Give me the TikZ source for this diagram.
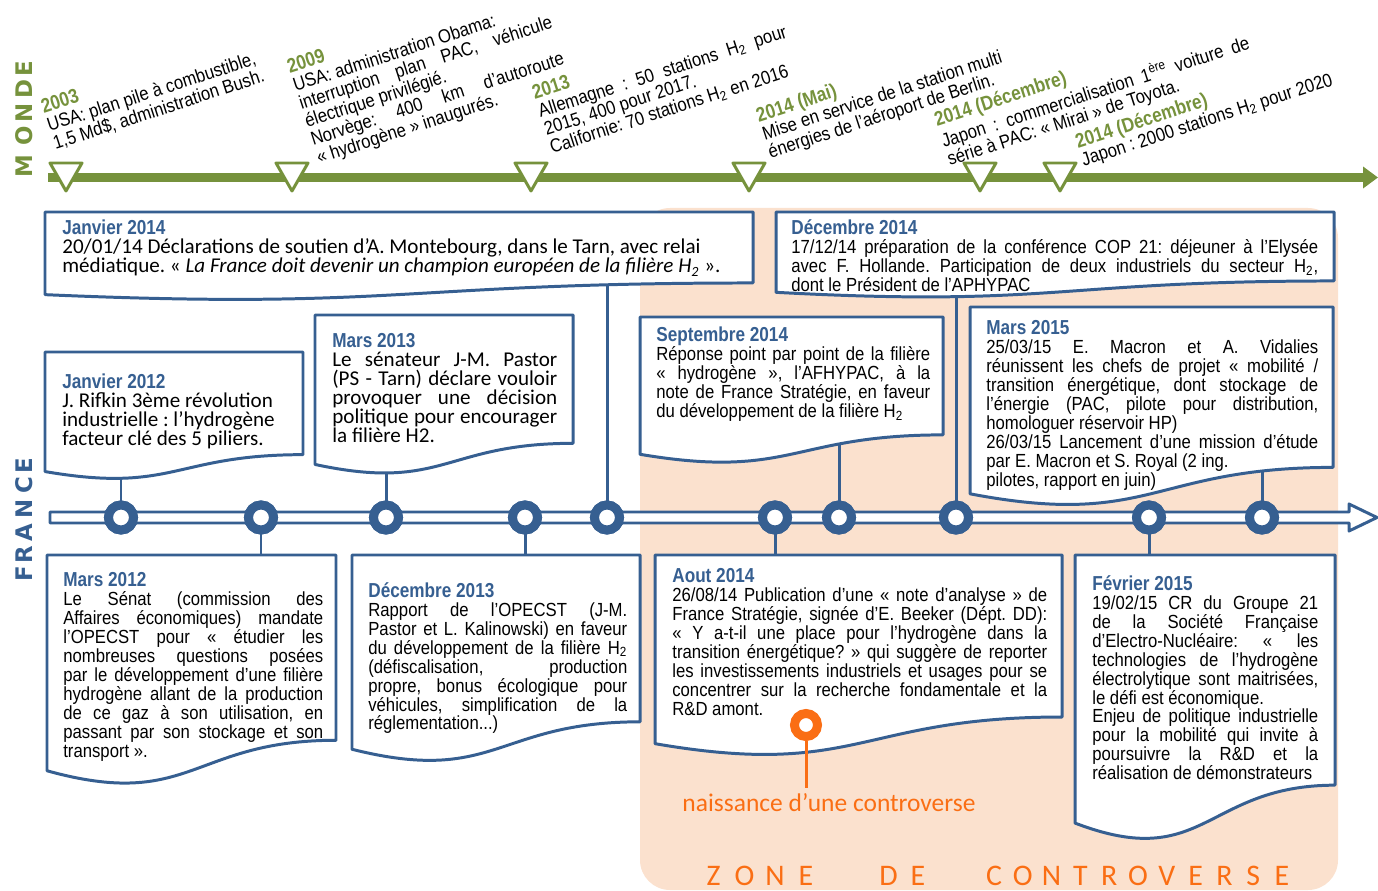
\documentclass[tikz,border=0pt]{standalone}
\usepackage{fontspec}
\setmainfont{Liberation Sans}
\newfontfamily\narrowfont{Liberation Sans}[FakeStretch=0.88]
\newfontfamily\titlefont{Liberation Sans}[FakeStretch=0.85]
\newfontfamily\calfont{Carlito}
\newfontfamily\sidefont{DejaVu Sans}
\usetikzlibrary{arrows.meta}

\definecolor{mondegreen}{RGB}{118,146,60}
\definecolor{francblue}{RGB}{54,95,145}
\definecolor{controrange}{RGB}{250,110,20}
\definecolor{zonefill}{RGB}{251,225,206}

\tolerance=10000
\hbadness=10000
\frenchspacing

\newcommand{\Hdeux}{H\textsubscript{2}}
\newcommand{\boxtitle}[1]{{\titlefont\bfseries\fontsize{11.5}{10.8}\selectfont\color{francblue}#1}}
\newcommand{\yeartitle}[1]{{\titlefont\bfseries\fontsize{11.5}{10.8}\selectfont\color{mondegreen}#1}}
% document shape: left x, top y, right x, height
\newcommand{\docbox}[4]{%
  \draw[boxline] (#1,#2) -- (#3,#2) -- (#3,{#2+0.802*#4})
    .. controls ({(#1+#3)/2},{#2+0.802*#4}) and ({(#1+#3)/2},{#2+1.1075*#4}) .. (#1,{#2+0.934*#4}) -- cycle;}

\tikzset{
  boxline/.style={draw=francblue, line width=1.7pt, fill=white, line join=round},
  narrowtxt/.style={anchor=north west, inner sep=0pt, align=justify, font=\narrowfont\fontsize{10.8}{10.8}\selectfont},
  caltxt/.style={anchor=north west, inner sep=0pt, align=justify, font=\calfont\fontsize{12}{10.8}\selectfont},
  worldtxt/.style={anchor=north west, inner sep=0pt, rotate=18, font=\narrowfont\fontsize{10.8}{10.8}\selectfont},
  ring/.style={circle, draw=francblue, line width=5.1pt, fill=white, minimum size=0.5cm, inner sep=0pt},
  link/.style={draw=francblue, line width=1.7pt},
  marker/.style={draw=mondegreen, line width=1.7pt, fill=white, line join=round},
  sideletter/.style={rotate=90, inner sep=0pt, font=\sidefont\bfseries\fontsize{13}{13}\selectfont},
  zoneletter/.style={inner sep=0pt, text=controrange, font=\calfont\fontsize{17}{17}\selectfont}
}

\begin{document}
\begin{tikzpicture}[x=0.02cm, y=-0.02cm]
\useasboundingbox (0,0) rectangle (1378,891);

% zone de controverse
\fill[zonefill, rounded corners=0.6cm] (640,208) rectangle (1338,890);

% monde
\foreach \l/\y in {M/166, O/136, N/113, D/89, E/69}
    \node[sideletter, text=mondegreen] at (24,\y) {\l};
\coordinate (m0) at (48,177.5);
\coordinate (m1) at (1378,177.5);
\draw[mondegreen, line width=5.1pt, -{Triangle[length=0.3cm, width=0.42cm]}] (m0) -- (m1);
\foreach \x in {66, 292, 531, 749, 980, 1060}
    \draw[marker] (\x-16,163) -- (\x+16,163) -- (\x,191) -- cycle;

\node[worldtxt, align=left] (w2003) at (39,100) {\yeartitle{2003}\\
USA: plan pile à combustible,\\ 1,5 Md\$, administration Bush.};
\node[worldtxt, align=justify, text width=5.3cm] (w2009) at (285,60) {\yeartitle{2009}\\
USA: administration Obama:\\ interruption plan PAC, véhicule\linebreak électrique privilégié.\\
Norvège: 400 km d’autoroute\linebreak « hydrogène » inaugurés.};
\node[worldtxt, align=justify, text width=5.2cm] (w2013) at (530,86) {\yeartitle{2013}\\
Allemagne : 50 stations \Hdeux{} pour\linebreak 2015, 400 pour 2017.\\ Californie: 70 stations \Hdeux{} en 2016};
\node[worldtxt, align=left] (wmai) at (754,108) {\yeartitle{2014 (Mai)}\\
Mise en service de la station multi\\ énergies de l’aéroport de Berlin.};
\node[worldtxt, align=justify, text width=6.45cm] (wdec1) at (932,112) {\yeartitle{2014 (Décembre)}\\
Japon : commercialisation 1\textsuperscript{ère} voiture de\linebreak série à PAC: « Mirai » de Toyota.};
\node[worldtxt, align=left] (wdec2) at (1073,134) {\yeartitle{2014 (Décembre)}\\
Japon : 2000 stations \Hdeux{} pour 2020};

% france
\foreach \l/\y in {F/574, R/555, A/533, N/509, C/485, E/466}
    \node[sideletter, text=francblue] at (24,\y) {\l};
\draw[boxline] (50,512) -- (1349,512) -- (1349,504) -- (1377,517.5) -- (1349,531) -- (1349,523) -- (50,523) -- cycle;

\coordinate (j12b) at (121,470);
\coordinate (m12b) at (261,565);
\coordinate (m13b) at (386,455);
\coordinate (d13b) at (525,565);
\coordinate (j14b) at (607,280);
\coordinate (a14b) at (775,565);
\coordinate (s14b) at (839,440);
\coordinate (d14b) at (956,280);
\coordinate (f15b) at (1149,565);
\coordinate (m15b) at (1262,470);
\foreach \n/\x/\to in {c1/121/j12b, c2/261/m12b, c3/386/m13b, c4/525/d13b, c5/607/j14b,
                       c6/775/a14b, c7/839/s14b, c8/956/d14b, c9/1149/f15b, c10/1262/m15b}
{
    \node[ring] (\n) at (\x,517.5) {};
    \draw[link] (\n) -- (\to);
}
\foreach \n in {c1,c2,c3,c4,c5,c6,c7,c8,c9,c10}
    \node[ring] at (\n) {};

% boxes
\docbox{45}{212}{753}{88.5}
\docbox{776}{212}{1334}{86}
\docbox{45}{352}{303}{128}
\docbox{315}{315}{573}{160}
\docbox{640}{317}{943}{147}
\docbox{970}{307}{1333}{200}
\docbox{47}{555}{336}{231}
\docbox{352}{555}{640}{208}
\docbox{655}{555}{1062}{202}
\docbox{1075}{555}{1335}{287}

\node[caltxt, align=left] (t-janv14) at (62,220) {\boxtitle{Janvier 2014}\\
20/01/14 Déclarations de soutien d’A. Montebourg, dans le Tarn, avec relai\\
médiatique. « \textit{La France doit devenir un champion européen de la filière H\textsubscript{2}} ».};
\node[narrowtxt, text width=10.54cm] (t-dec14) at (791,219) {\boxtitle{Décembre 2014}\\
17/12/14 préparation de la conférence COP 21: déjeuner à l’Elysée\linebreak
avec F. Hollande. Participation de deux industriels du secteur \Hdeux,\linebreak
dont le Président de l’APHYPAC};
\node[caltxt, align=left] (t-janv12) at (62,374) {\boxtitle{Janvier 2012}\\
J. Rifkin 3ème révolution\\ industrielle : l’hydrogène\\ facteur clé des 5 piliers.};
\node[caltxt, text width=4.5cm] (t-mars13) at (332,333) {\boxtitle{Mars 2013}\\
Le sénateur J-M. Pastor\linebreak (PS - Tarn) déclare vouloir\linebreak provoquer une décision\linebreak
politique pour encourager\linebreak la filière H2.};
\node[narrowtxt, text width=5.48cm] (t-sept14) at (656,327) {\boxtitle{Septembre 2014}\\
Réponse point par point de la filière\linebreak « hydrogène », l’AFHYPAC, à la\linebreak
note de France Stratégie, en faveur\linebreak du développement de la filière \Hdeux};
\node[narrowtxt, text width=6.64cm] (t-mars15) at (986,320) {\boxtitle{Mars 2015}\\
25/03/15 E. Macron et A. Vidalies\linebreak réunissent les chefs de projet « mobilité /\linebreak
transition énergétique, dont stockage de\linebreak l’énergie (PAC, pilote pour distribution,\linebreak
homologuer réservoir HP)\\ 26/03/15 Lancement d’une mission d’étude\linebreak
par E. Macron et S. Royal (2 ing.\\ pilotes, rapport en juin)};
\node[narrowtxt, text width=5.2cm] (t-mars12) at (63,572) {\boxtitle{Mars 2012}\\
Le Sénat (commission des\linebreak Affaires économiques) mandate\linebreak l’OPECST pour « étudier les\linebreak
nombreuses questions posées\linebreak par le développement d’une filière\linebreak
hydrogène allant de la production\linebreak de ce gaz à son utilisation, en\linebreak
passant par son stockage et son\linebreak transport ».};
\node[narrowtxt, text width=5.18cm] (t-dec13) at (368,582) {\boxtitle{Décembre 2013}\\
Rapport de l’OPECST (J-M.\linebreak Pastor et L. Kalinowski) en faveur\linebreak
du développement de la filière \Hdeux\linebreak (défiscalisation, production\linebreak
propre, bonus écologique pour\linebreak véhicules, simplification de la\linebreak réglementation...)};
\node[narrowtxt, text width=7.5cm] (t-aout14) at (672,568) {\boxtitle{Aout 2014}\\
26/08/14 Publication d’une « note d’analyse » de\linebreak
France Stratégie, signée d’E. Beeker (Dépt. DD):\linebreak
« Y a-t-il une place pour l’hydrogène dans la\linebreak
transition énergétique? » qui suggère de reporter\linebreak
les investissements industriels et usages pour se\linebreak
concentrer sur la recherche fondamentale et la\linebreak R\&D amont.};
\node[narrowtxt, text width=4.52cm] (t-fev15) at (1092,575) {\boxtitle{Février 2015}\\
19/02/15 CR du Groupe 21\linebreak de la Société Française\linebreak d’Electro-Nucléaire: « les\linebreak
technologies de l’hydrogène\linebreak électrolytique sont maitrisées,\linebreak le défi est économique.\\
Enjeu de politique industrielle\linebreak pour la mobilité qui invite à\linebreak
poursuivre la R\&D et la\linebreak réalisation de démonstrateurs};

% naissance d'une controverse
\node[ring, draw=controrange, minimum size=0.46cm] (nc) at (806,725) {};
\coordinate (ncb) at (806,788);
\draw[controrange, line width=1.7pt] (nc) -- (ncb);
\node[inner sep=0pt, text=controrange, font=\calfont\fontsize{14.5}{14.5}\selectfont] (nctxt) at (829,803) {naissance d’une controverse};

\foreach \l [count=\i] in {Z,O,N,E}
    \node[zoneletter] at ({683+30.7*\i},876) {\l};
\foreach \l [count=\i] in {D,E}
    \node[zoneletter] at ({859+29.5*\i},876) {\l};
\foreach \l [count=\i] in {C,O,N,T,R,O,V,E,R,S,E}
    \node[zoneletter] at ({965.2+28.8*\i},876) {\l};
\end{tikzpicture}
\end{document}
